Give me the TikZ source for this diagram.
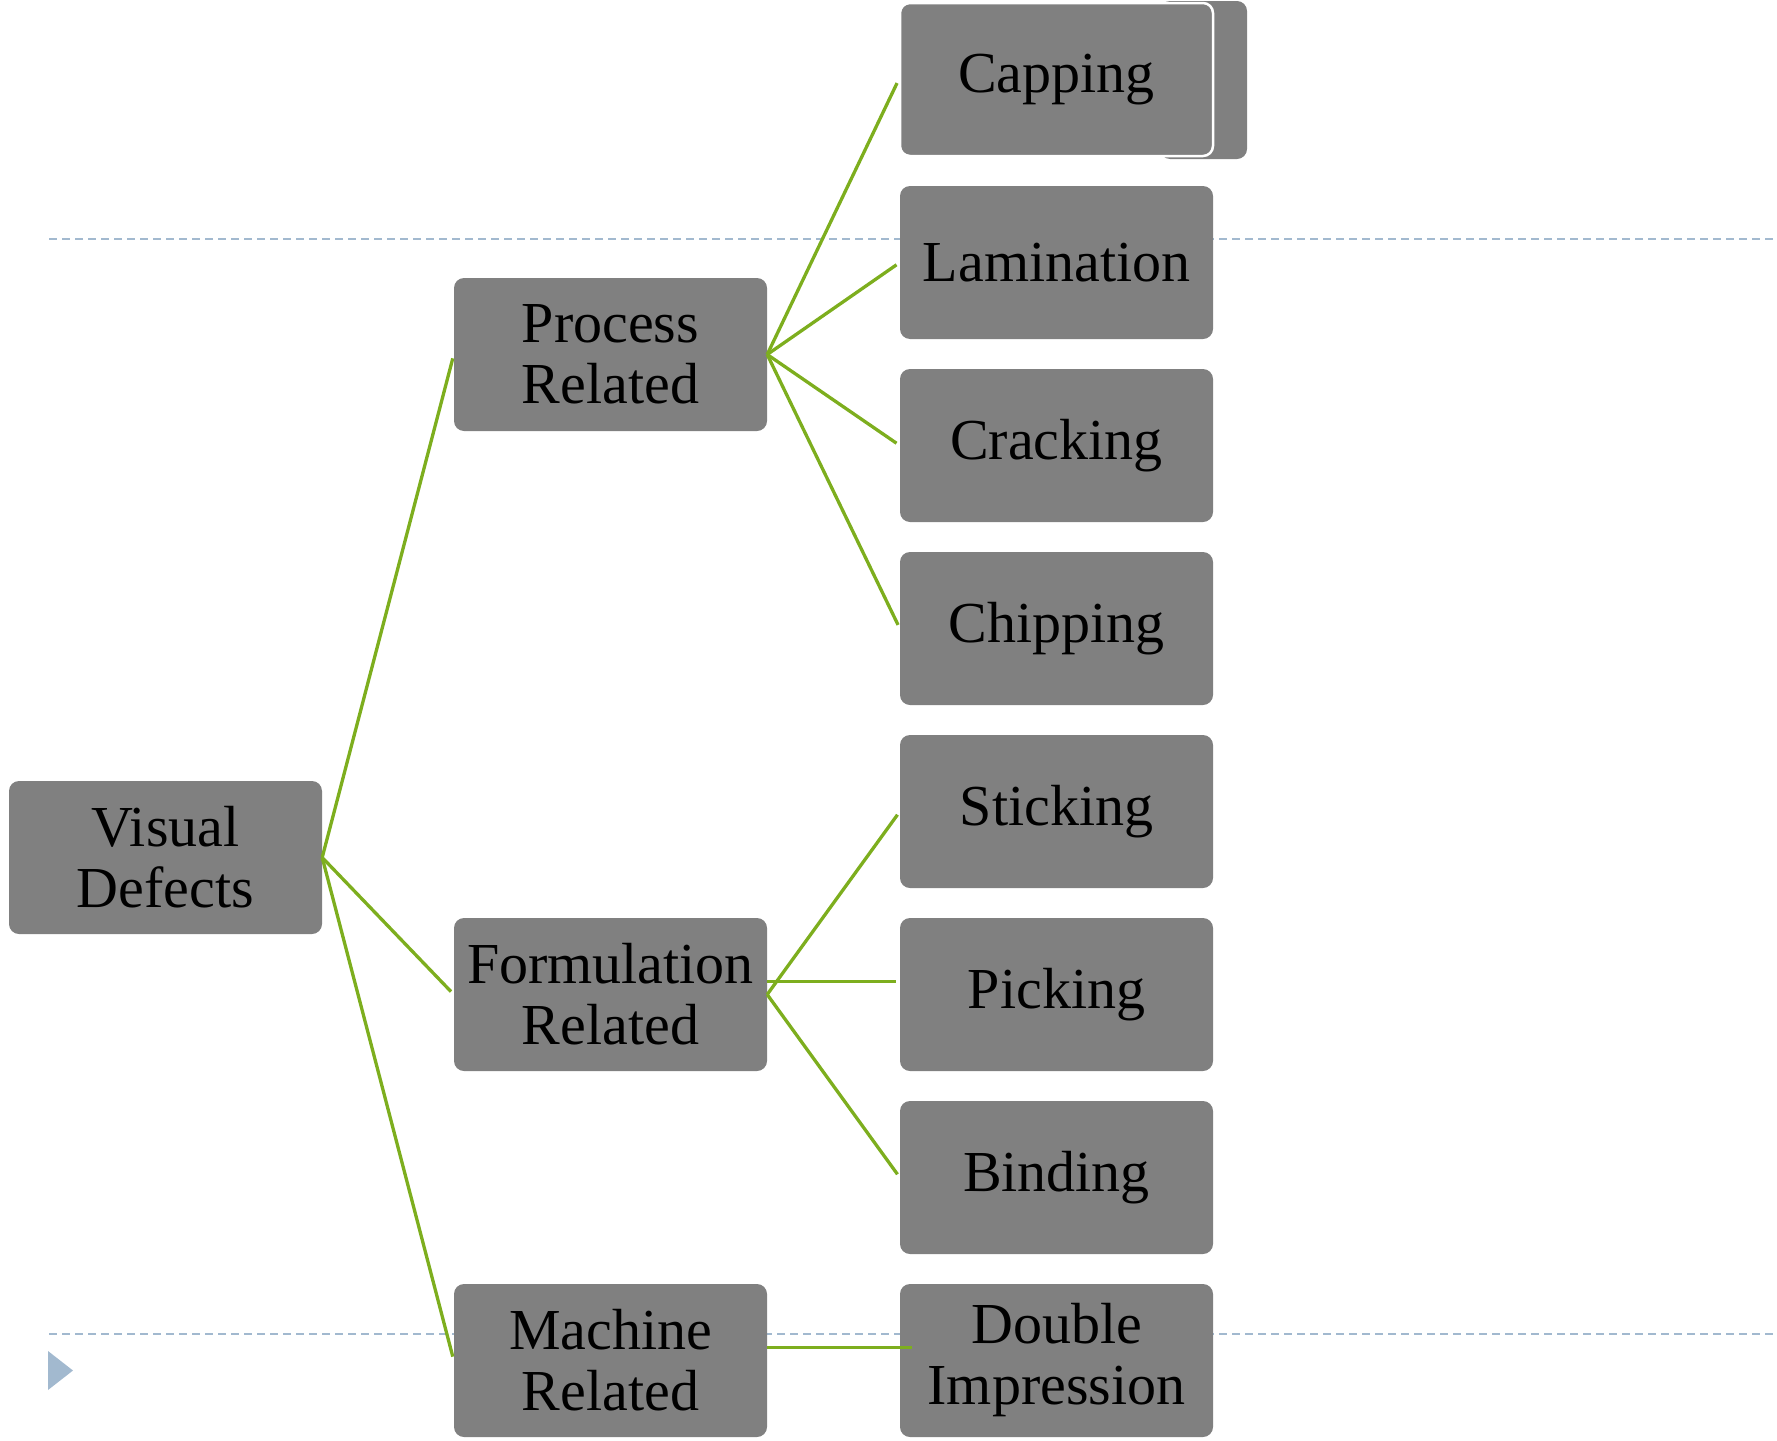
\documentclass[tikz,border=0pt]{standalone}
\usepackage{fontspec}
\setmainfont{Liberation Serif}
\definecolor{boxgray}{HTML}{808080}
\definecolor{linkgreen}{HTML}{7DAE1E}
\definecolor{guideblue}{HTML}{A2B9CF}
\begin{document}
\begin{tikzpicture}[x=1pt,y=-1pt,
  defect/.style={rectangle, rounded corners=10pt, fill=boxgray, text=black,
    minimum width=313pt, minimum height=153pt, inner sep=0pt, align=center,
    font=\fontsize{58}{61}\selectfont},
  link/.style={draw=linkgreen, line width=3.3pt, shorten >=4pt},
  guide/.style={draw=guideblue, line width=1.8pt, dash pattern=on 8pt off 5pt}]
\useasboundingbox (0,0) rectangle (1777,1440);
% guide lines
\coordinate (g1a) at (49,239);
\coordinate (g1b) at (1777,239);
\coordinate (g2a) at (49,1334);
\coordinate (g2b) at (1777,1334);
\draw[guide] (g1a) -- (g1b);
\draw[guide] (g2a) -- (g2b);
\fill[guideblue] (48,1351) -- (73,1370.5) -- (48,1390) -- cycle;
% back box behind Capping
\fill[boxgray, rounded corners=10pt] (1160,1) rectangle (1247,159);
% nodes
\node[defect] (vd) at (165.5,857.5) {Visual\\Defects};
\node[defect] (pr) at (610.5,354.5) {Process\\Related};
\node[defect] (fr) at (610.5,994.5) {Formulation\\Related};
\node[defect] (mr) at (610.5,1360.5) {Machine\\Related};
\node[defect, draw=white, line width=2.5pt] (cap) at (1056.5,79.5) {Capping};
\node[defect] (lam) at (1056.5,262.5) {Lamination};
\node[defect] (cra) at (1056.5,445.5) {Cracking};
\node[defect] (chi) at (1056.5,628.5) {Chipping};
\node[defect] (sti) at (1056.5,811.5) {Sticking};
\node[defect] (pic) at (1056.5,994.5) {Picking};
\node[defect] (bin) at (1056.5,1177.5) {Binding};
\node[defect] (dbl) at (1056.5,1360.5) {Double\\Impression};
% connectors
\draw[link] (vd.east) -- (pr.west);
\draw[link] (vd.east) -- (fr.west);
\draw[link] (vd.east) -- (mr.west);
\draw[link] (pr.east) -- (cap.west);
\draw[link] (pr.east) -- (lam.west);
\draw[link] (pr.east) -- (cra.west);
\draw[link] (pr.east) -- (chi.west);
\draw[link] (fr.east) -- (sti.west);
\draw[link, line width=3.8pt, shorten >=4pt] ([yshift=13pt]fr.east) -- ([yshift=13pt]pic.west);
\draw[link] (fr.east) -- (bin.west);
\draw[link, line width=3.8pt, shorten >=-12pt] ([yshift=13pt]mr.east) -- ([yshift=13pt]dbl.west);
\end{tikzpicture}
\end{document}
